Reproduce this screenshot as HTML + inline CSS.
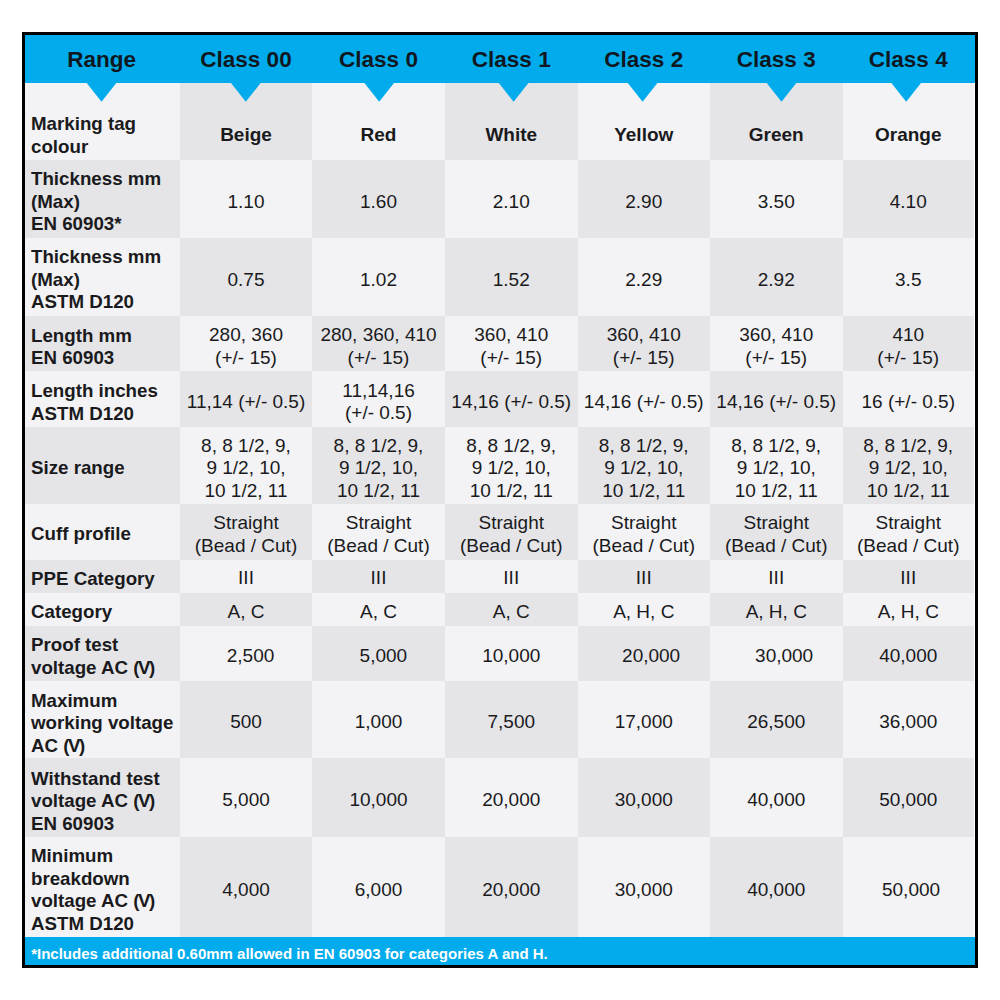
<!DOCTYPE html>
<html><head><meta charset="utf-8"><style>
html,body{margin:0;padding:0;background:#fff;}
body{width:1000px;height:1000px;position:relative;overflow:hidden;font-family:"Liberation Sans",sans-serif;}
.c{position:absolute;}
.t{position:absolute;height:30px;line-height:30px;white-space:nowrap;}
#box{position:absolute;left:22px;top:32px;width:950px;height:930px;border:3px solid #000;}
</style></head><body>
<div id="box"></div>
<div class="c" style="left:25px;top:83px;width:155px;height:77px;background:#f3f3f5"></div>
<div class="c" style="left:180px;top:83px;width:132px;height:77px;background:#e5e5e8"></div>
<div class="c" style="left:312px;top:83px;width:133px;height:77px;background:#f3f3f5"></div>
<div class="c" style="left:445px;top:83px;width:132.5px;height:77px;background:#e5e5e8"></div>
<div class="c" style="left:577.5px;top:83px;width:132.5px;height:77px;background:#f3f3f5"></div>
<div class="c" style="left:710px;top:83px;width:132.5px;height:77px;background:#e5e5e8"></div>
<div class="c" style="left:842.5px;top:83px;width:131.5px;height:77px;background:#f3f3f5"></div>
<div class="c" style="left:25px;top:160px;width:155px;height:78px;background:#e5e5e8"></div>
<div class="c" style="left:180px;top:160px;width:132px;height:78px;background:#f3f3f5"></div>
<div class="c" style="left:312px;top:160px;width:133px;height:78px;background:#e5e5e8"></div>
<div class="c" style="left:445px;top:160px;width:132.5px;height:78px;background:#f3f3f5"></div>
<div class="c" style="left:577.5px;top:160px;width:132.5px;height:78px;background:#e5e5e8"></div>
<div class="c" style="left:710px;top:160px;width:132.5px;height:78px;background:#f3f3f5"></div>
<div class="c" style="left:842.5px;top:160px;width:131.5px;height:78px;background:#e5e5e8"></div>
<div class="c" style="left:25px;top:238px;width:155px;height:78px;background:#f3f3f5"></div>
<div class="c" style="left:180px;top:238px;width:132px;height:78px;background:#e5e5e8"></div>
<div class="c" style="left:312px;top:238px;width:133px;height:78px;background:#f3f3f5"></div>
<div class="c" style="left:445px;top:238px;width:132.5px;height:78px;background:#e5e5e8"></div>
<div class="c" style="left:577.5px;top:238px;width:132.5px;height:78px;background:#f3f3f5"></div>
<div class="c" style="left:710px;top:238px;width:132.5px;height:78px;background:#e5e5e8"></div>
<div class="c" style="left:842.5px;top:238px;width:131.5px;height:78px;background:#f3f3f5"></div>
<div class="c" style="left:25px;top:316px;width:155px;height:55px;background:#e5e5e8"></div>
<div class="c" style="left:180px;top:316px;width:132px;height:55px;background:#f3f3f5"></div>
<div class="c" style="left:312px;top:316px;width:133px;height:55px;background:#e5e5e8"></div>
<div class="c" style="left:445px;top:316px;width:132.5px;height:55px;background:#f3f3f5"></div>
<div class="c" style="left:577.5px;top:316px;width:132.5px;height:55px;background:#e5e5e8"></div>
<div class="c" style="left:710px;top:316px;width:132.5px;height:55px;background:#f3f3f5"></div>
<div class="c" style="left:842.5px;top:316px;width:131.5px;height:55px;background:#e5e5e8"></div>
<div class="c" style="left:25px;top:371px;width:155px;height:56px;background:#f3f3f5"></div>
<div class="c" style="left:180px;top:371px;width:132px;height:56px;background:#e5e5e8"></div>
<div class="c" style="left:312px;top:371px;width:133px;height:56px;background:#f3f3f5"></div>
<div class="c" style="left:445px;top:371px;width:132.5px;height:56px;background:#e5e5e8"></div>
<div class="c" style="left:577.5px;top:371px;width:132.5px;height:56px;background:#f3f3f5"></div>
<div class="c" style="left:710px;top:371px;width:132.5px;height:56px;background:#e5e5e8"></div>
<div class="c" style="left:842.5px;top:371px;width:131.5px;height:56px;background:#f3f3f5"></div>
<div class="c" style="left:25px;top:427px;width:155px;height:77px;background:#e5e5e8"></div>
<div class="c" style="left:180px;top:427px;width:132px;height:77px;background:#f3f3f5"></div>
<div class="c" style="left:312px;top:427px;width:133px;height:77px;background:#e5e5e8"></div>
<div class="c" style="left:445px;top:427px;width:132.5px;height:77px;background:#f3f3f5"></div>
<div class="c" style="left:577.5px;top:427px;width:132.5px;height:77px;background:#e5e5e8"></div>
<div class="c" style="left:710px;top:427px;width:132.5px;height:77px;background:#f3f3f5"></div>
<div class="c" style="left:842.5px;top:427px;width:131.5px;height:77px;background:#e5e5e8"></div>
<div class="c" style="left:25px;top:504px;width:155px;height:56px;background:#f3f3f5"></div>
<div class="c" style="left:180px;top:504px;width:132px;height:56px;background:#e5e5e8"></div>
<div class="c" style="left:312px;top:504px;width:133px;height:56px;background:#f3f3f5"></div>
<div class="c" style="left:445px;top:504px;width:132.5px;height:56px;background:#e5e5e8"></div>
<div class="c" style="left:577.5px;top:504px;width:132.5px;height:56px;background:#f3f3f5"></div>
<div class="c" style="left:710px;top:504px;width:132.5px;height:56px;background:#e5e5e8"></div>
<div class="c" style="left:842.5px;top:504px;width:131.5px;height:56px;background:#f3f3f5"></div>
<div class="c" style="left:25px;top:560px;width:155px;height:33px;background:#e5e5e8"></div>
<div class="c" style="left:180px;top:560px;width:132px;height:33px;background:#f3f3f5"></div>
<div class="c" style="left:312px;top:560px;width:133px;height:33px;background:#e5e5e8"></div>
<div class="c" style="left:445px;top:560px;width:132.5px;height:33px;background:#f3f3f5"></div>
<div class="c" style="left:577.5px;top:560px;width:132.5px;height:33px;background:#e5e5e8"></div>
<div class="c" style="left:710px;top:560px;width:132.5px;height:33px;background:#f3f3f5"></div>
<div class="c" style="left:842.5px;top:560px;width:131.5px;height:33px;background:#e5e5e8"></div>
<div class="c" style="left:25px;top:593px;width:155px;height:33px;background:#f3f3f5"></div>
<div class="c" style="left:180px;top:593px;width:132px;height:33px;background:#e5e5e8"></div>
<div class="c" style="left:312px;top:593px;width:133px;height:33px;background:#f3f3f5"></div>
<div class="c" style="left:445px;top:593px;width:132.5px;height:33px;background:#e5e5e8"></div>
<div class="c" style="left:577.5px;top:593px;width:132.5px;height:33px;background:#f3f3f5"></div>
<div class="c" style="left:710px;top:593px;width:132.5px;height:33px;background:#e5e5e8"></div>
<div class="c" style="left:842.5px;top:593px;width:131.5px;height:33px;background:#f3f3f5"></div>
<div class="c" style="left:25px;top:626px;width:155px;height:55px;background:#e5e5e8"></div>
<div class="c" style="left:180px;top:626px;width:132px;height:55px;background:#f3f3f5"></div>
<div class="c" style="left:312px;top:626px;width:133px;height:55px;background:#e5e5e8"></div>
<div class="c" style="left:445px;top:626px;width:132.5px;height:55px;background:#f3f3f5"></div>
<div class="c" style="left:577.5px;top:626px;width:132.5px;height:55px;background:#e5e5e8"></div>
<div class="c" style="left:710px;top:626px;width:132.5px;height:55px;background:#f3f3f5"></div>
<div class="c" style="left:842.5px;top:626px;width:131.5px;height:55px;background:#e5e5e8"></div>
<div class="c" style="left:25px;top:681px;width:155px;height:77px;background:#f3f3f5"></div>
<div class="c" style="left:180px;top:681px;width:132px;height:77px;background:#e5e5e8"></div>
<div class="c" style="left:312px;top:681px;width:133px;height:77px;background:#f3f3f5"></div>
<div class="c" style="left:445px;top:681px;width:132.5px;height:77px;background:#e5e5e8"></div>
<div class="c" style="left:577.5px;top:681px;width:132.5px;height:77px;background:#f3f3f5"></div>
<div class="c" style="left:710px;top:681px;width:132.5px;height:77px;background:#e5e5e8"></div>
<div class="c" style="left:842.5px;top:681px;width:131.5px;height:77px;background:#f3f3f5"></div>
<div class="c" style="left:25px;top:758px;width:155px;height:79px;background:#e5e5e8"></div>
<div class="c" style="left:180px;top:758px;width:132px;height:79px;background:#f3f3f5"></div>
<div class="c" style="left:312px;top:758px;width:133px;height:79px;background:#e5e5e8"></div>
<div class="c" style="left:445px;top:758px;width:132.5px;height:79px;background:#f3f3f5"></div>
<div class="c" style="left:577.5px;top:758px;width:132.5px;height:79px;background:#e5e5e8"></div>
<div class="c" style="left:710px;top:758px;width:132.5px;height:79px;background:#f3f3f5"></div>
<div class="c" style="left:842.5px;top:758px;width:131.5px;height:79px;background:#e5e5e8"></div>
<div class="c" style="left:25px;top:837px;width:155px;height:100px;background:#f3f3f5"></div>
<div class="c" style="left:180px;top:837px;width:132px;height:100px;background:#e5e5e8"></div>
<div class="c" style="left:312px;top:837px;width:133px;height:100px;background:#f3f3f5"></div>
<div class="c" style="left:445px;top:837px;width:132.5px;height:100px;background:#e5e5e8"></div>
<div class="c" style="left:577.5px;top:837px;width:132.5px;height:100px;background:#f3f3f5"></div>
<div class="c" style="left:710px;top:837px;width:132.5px;height:100px;background:#e5e5e8"></div>
<div class="c" style="left:842.5px;top:837px;width:131.5px;height:100px;background:#f3f3f5"></div>
<div class="c" style="left:25px;top:35px;width:950px;height:48px;background:#02abec"></div>
<div class="c" style="left:25px;top:937px;width:950px;height:28px;background:#02abec"></div>
<svg class="c" style="left:0;top:0" width="1000" height="1000" viewBox="0 0 1000 1000"><polygon points="86.30,82.5 116.70,82.5 101.50,101.8" fill="#02abec"/><polygon points="230.60,82.5 261.00,82.5 245.80,101.8" fill="#02abec"/><polygon points="364.00,82.5 394.40,82.5 379.20,101.8" fill="#02abec"/><polygon points="498.40,82.5 528.80,82.5 513.60,101.8" fill="#02abec"/><polygon points="627.40,82.5 657.80,82.5 642.60,101.8" fill="#02abec"/><polygon points="766.30,82.5 796.70,82.5 781.50,101.8" fill="#02abec"/><polygon points="891.00,82.5 921.40,82.5 906.20,101.8" fill="#02abec"/></svg>
<div class="t" style="left:31.70px;top:45.20px;width:140px;text-align:center;font-size:22.5px;font-weight:bold;color:#0f1820;transform:scaleX(1.0);transform-origin:50% 50%">Range</div>
<div class="t" style="left:176.00px;top:45.20px;width:140px;text-align:center;font-size:22.5px;font-weight:bold;color:#0f1820;transform:scaleX(1.0);transform-origin:50% 50%">Class 00</div>
<div class="t" style="left:308.50px;top:45.20px;width:140px;text-align:center;font-size:22.5px;font-weight:bold;color:#0f1820;transform:scaleX(1.0);transform-origin:50% 50%">Class 0</div>
<div class="t" style="left:441.25px;top:45.20px;width:140px;text-align:center;font-size:22.5px;font-weight:bold;color:#0f1820;transform:scaleX(1.0);transform-origin:50% 50%">Class 1</div>
<div class="t" style="left:573.75px;top:45.20px;width:140px;text-align:center;font-size:22.5px;font-weight:bold;color:#0f1820;transform:scaleX(1.0);transform-origin:50% 50%">Class 2</div>
<div class="t" style="left:706.25px;top:45.20px;width:140px;text-align:center;font-size:22.5px;font-weight:bold;color:#0f1820;transform:scaleX(1.0);transform-origin:50% 50%">Class 3</div>
<div class="t" style="left:838.25px;top:45.20px;width:140px;text-align:center;font-size:22.5px;font-weight:bold;color:#0f1820;transform:scaleX(1.0);transform-origin:50% 50%">Class 4</div>
<div class="t" style="left:30.50px;top:109.12px;width:160px;text-align:left;font-size:19.0px;font-weight:bold;color:#1a1a1c;transform:scaleX(0.985);transform-origin:0 50%">Marking tag</div>
<div class="t" style="left:30.50px;top:131.52px;width:160px;text-align:left;font-size:19.0px;font-weight:bold;color:#1a1a1c;transform:scaleX(0.985);transform-origin:0 50%">colour</div>
<div class="t" style="left:176.00px;top:120.27px;width:140px;text-align:center;font-size:19.0px;font-weight:bold;color:#1a1a1c;transform:scaleX(1.0);transform-origin:50% 50%">Beige</div>
<div class="t" style="left:308.50px;top:120.27px;width:140px;text-align:center;font-size:19.0px;font-weight:bold;color:#1a1a1c;transform:scaleX(1.0);transform-origin:50% 50%">Red</div>
<div class="t" style="left:441.25px;top:120.27px;width:140px;text-align:center;font-size:19.0px;font-weight:bold;color:#1a1a1c;transform:scaleX(1.0);transform-origin:50% 50%">White</div>
<div class="t" style="left:573.75px;top:120.27px;width:140px;text-align:center;font-size:19.0px;font-weight:bold;color:#1a1a1c;transform:scaleX(1.0);transform-origin:50% 50%">Yellow</div>
<div class="t" style="left:706.25px;top:120.27px;width:140px;text-align:center;font-size:19.0px;font-weight:bold;color:#1a1a1c;transform:scaleX(1.0);transform-origin:50% 50%">Green</div>
<div class="t" style="left:838.25px;top:120.27px;width:140px;text-align:center;font-size:19.0px;font-weight:bold;color:#1a1a1c;transform:scaleX(1.0);transform-origin:50% 50%">Orange</div>
<div class="t" style="left:30.50px;top:164.22px;width:160px;text-align:left;font-size:19.0px;font-weight:bold;color:#1a1a1c;transform:scaleX(0.985);transform-origin:0 50%">Thickness mm</div>
<div class="t" style="left:30.50px;top:186.62px;width:160px;text-align:left;font-size:19.0px;font-weight:bold;color:#1a1a1c;transform:scaleX(0.985);transform-origin:0 50%">(Max)</div>
<div class="t" style="left:30.50px;top:209.02px;width:160px;text-align:left;font-size:19.0px;font-weight:bold;color:#1a1a1c;transform:scaleX(0.985);transform-origin:0 50%">EN 60903*</div>
<div class="t" style="left:176.00px;top:187.02px;width:140px;text-align:center;font-size:19.0px;font-weight:normal;color:#1a1a1c;transform:scaleX(1.0);transform-origin:50% 50%">1.10</div>
<div class="t" style="left:308.50px;top:187.02px;width:140px;text-align:center;font-size:19.0px;font-weight:normal;color:#1a1a1c;transform:scaleX(1.0);transform-origin:50% 50%">1.60</div>
<div class="t" style="left:441.25px;top:187.02px;width:140px;text-align:center;font-size:19.0px;font-weight:normal;color:#1a1a1c;transform:scaleX(1.0);transform-origin:50% 50%">2.10</div>
<div class="t" style="left:573.75px;top:187.02px;width:140px;text-align:center;font-size:19.0px;font-weight:normal;color:#1a1a1c;transform:scaleX(1.0);transform-origin:50% 50%">2.90</div>
<div class="t" style="left:706.25px;top:187.02px;width:140px;text-align:center;font-size:19.0px;font-weight:normal;color:#1a1a1c;transform:scaleX(1.0);transform-origin:50% 50%">3.50</div>
<div class="t" style="left:838.25px;top:187.02px;width:140px;text-align:center;font-size:19.0px;font-weight:normal;color:#1a1a1c;transform:scaleX(1.0);transform-origin:50% 50%">4.10</div>
<div class="t" style="left:30.50px;top:242.37px;width:160px;text-align:left;font-size:19.0px;font-weight:bold;color:#1a1a1c;transform:scaleX(0.985);transform-origin:0 50%">Thickness mm</div>
<div class="t" style="left:30.50px;top:264.77px;width:160px;text-align:left;font-size:19.0px;font-weight:bold;color:#1a1a1c;transform:scaleX(0.985);transform-origin:0 50%">(Max)</div>
<div class="t" style="left:30.50px;top:287.17px;width:160px;text-align:left;font-size:19.0px;font-weight:bold;color:#1a1a1c;transform:scaleX(0.985);transform-origin:0 50%">ASTM D120</div>
<div class="t" style="left:176.00px;top:264.72px;width:140px;text-align:center;font-size:19.0px;font-weight:normal;color:#1a1a1c;transform:scaleX(1.0);transform-origin:50% 50%">0.75</div>
<div class="t" style="left:308.50px;top:264.72px;width:140px;text-align:center;font-size:19.0px;font-weight:normal;color:#1a1a1c;transform:scaleX(1.0);transform-origin:50% 50%">1.02</div>
<div class="t" style="left:441.25px;top:264.72px;width:140px;text-align:center;font-size:19.0px;font-weight:normal;color:#1a1a1c;transform:scaleX(1.0);transform-origin:50% 50%">1.52</div>
<div class="t" style="left:573.75px;top:264.72px;width:140px;text-align:center;font-size:19.0px;font-weight:normal;color:#1a1a1c;transform:scaleX(1.0);transform-origin:50% 50%">2.29</div>
<div class="t" style="left:706.25px;top:264.72px;width:140px;text-align:center;font-size:19.0px;font-weight:normal;color:#1a1a1c;transform:scaleX(1.0);transform-origin:50% 50%">2.92</div>
<div class="t" style="left:838.25px;top:264.72px;width:140px;text-align:center;font-size:19.0px;font-weight:normal;color:#1a1a1c;transform:scaleX(1.0);transform-origin:50% 50%">3.5</div>
<div class="t" style="left:30.50px;top:320.57px;width:160px;text-align:left;font-size:19.0px;font-weight:bold;color:#1a1a1c;transform:scaleX(0.985);transform-origin:0 50%">Length mm</div>
<div class="t" style="left:30.50px;top:342.97px;width:160px;text-align:left;font-size:19.0px;font-weight:bold;color:#1a1a1c;transform:scaleX(0.985);transform-origin:0 50%">EN 60903</div>
<div class="t" style="left:176.00px;top:320.34px;width:140px;text-align:center;font-size:19.0px;font-weight:normal;color:#1a1a1c;transform:scaleX(1.0);transform-origin:50% 50%">280, 360</div>
<div class="t" style="left:176.00px;top:342.74px;width:140px;text-align:center;font-size:19.0px;font-weight:normal;color:#1a1a1c;transform:scaleX(1.0);transform-origin:50% 50%">(+/- 15)</div>
<div class="t" style="left:308.50px;top:320.34px;width:140px;text-align:center;font-size:19.0px;font-weight:normal;color:#1a1a1c;transform:scaleX(1.0);transform-origin:50% 50%">280, 360, 410</div>
<div class="t" style="left:308.50px;top:342.74px;width:140px;text-align:center;font-size:19.0px;font-weight:normal;color:#1a1a1c;transform:scaleX(1.0);transform-origin:50% 50%">(+/- 15)</div>
<div class="t" style="left:441.25px;top:320.34px;width:140px;text-align:center;font-size:19.0px;font-weight:normal;color:#1a1a1c;transform:scaleX(1.0);transform-origin:50% 50%">360, 410</div>
<div class="t" style="left:441.25px;top:342.74px;width:140px;text-align:center;font-size:19.0px;font-weight:normal;color:#1a1a1c;transform:scaleX(1.0);transform-origin:50% 50%">(+/- 15)</div>
<div class="t" style="left:573.75px;top:320.34px;width:140px;text-align:center;font-size:19.0px;font-weight:normal;color:#1a1a1c;transform:scaleX(1.0);transform-origin:50% 50%">360, 410</div>
<div class="t" style="left:573.75px;top:342.74px;width:140px;text-align:center;font-size:19.0px;font-weight:normal;color:#1a1a1c;transform:scaleX(1.0);transform-origin:50% 50%">(+/- 15)</div>
<div class="t" style="left:706.25px;top:320.34px;width:140px;text-align:center;font-size:19.0px;font-weight:normal;color:#1a1a1c;transform:scaleX(1.0);transform-origin:50% 50%">360, 410</div>
<div class="t" style="left:706.25px;top:342.74px;width:140px;text-align:center;font-size:19.0px;font-weight:normal;color:#1a1a1c;transform:scaleX(1.0);transform-origin:50% 50%">(+/- 15)</div>
<div class="t" style="left:838.25px;top:320.34px;width:140px;text-align:center;font-size:19.0px;font-weight:normal;color:#1a1a1c;transform:scaleX(1.0);transform-origin:50% 50%">410</div>
<div class="t" style="left:838.25px;top:342.74px;width:140px;text-align:center;font-size:19.0px;font-weight:normal;color:#1a1a1c;transform:scaleX(1.0);transform-origin:50% 50%">(+/- 15)</div>
<div class="t" style="left:30.50px;top:376.37px;width:160px;text-align:left;font-size:19.0px;font-weight:bold;color:#1a1a1c;transform:scaleX(0.985);transform-origin:0 50%">Length inches</div>
<div class="t" style="left:30.50px;top:398.77px;width:160px;text-align:left;font-size:19.0px;font-weight:bold;color:#1a1a1c;transform:scaleX(0.985);transform-origin:0 50%">ASTM D120</div>
<div class="t" style="left:176.00px;top:387.02px;width:140px;text-align:center;font-size:19.0px;font-weight:normal;color:#1a1a1c;transform:scaleX(1.0);transform-origin:50% 50%">11,14 (+/- 0.5)</div>
<div class="t" style="left:308.50px;top:375.82px;width:140px;text-align:center;font-size:19.0px;font-weight:normal;color:#1a1a1c;transform:scaleX(1.0);transform-origin:50% 50%">11,14,16</div>
<div class="t" style="left:308.50px;top:398.22px;width:140px;text-align:center;font-size:19.0px;font-weight:normal;color:#1a1a1c;transform:scaleX(1.0);transform-origin:50% 50%">(+/- 0.5)</div>
<div class="t" style="left:441.25px;top:387.02px;width:140px;text-align:center;font-size:19.0px;font-weight:normal;color:#1a1a1c;transform:scaleX(1.0);transform-origin:50% 50%">14,16 (+/- 0.5)</div>
<div class="t" style="left:573.75px;top:387.02px;width:140px;text-align:center;font-size:19.0px;font-weight:normal;color:#1a1a1c;transform:scaleX(1.0);transform-origin:50% 50%">14,16 (+/- 0.5)</div>
<div class="t" style="left:706.25px;top:387.02px;width:140px;text-align:center;font-size:19.0px;font-weight:normal;color:#1a1a1c;transform:scaleX(1.0);transform-origin:50% 50%">14,16 (+/- 0.5)</div>
<div class="t" style="left:838.25px;top:387.02px;width:140px;text-align:center;font-size:19.0px;font-weight:normal;color:#1a1a1c;transform:scaleX(1.0);transform-origin:50% 50%">16 (+/- 0.5)</div>
<div class="t" style="left:30.50px;top:453.42px;width:160px;text-align:left;font-size:19.0px;font-weight:bold;color:#1a1a1c;transform:scaleX(0.985);transform-origin:0 50%">Size range</div>
<div class="t" style="left:176.00px;top:431.04px;width:140px;text-align:center;font-size:19.0px;font-weight:normal;color:#1a1a1c;transform:scaleX(1.0);transform-origin:50% 50%">8, 8 1/2, 9,</div>
<div class="t" style="left:176.00px;top:453.44px;width:140px;text-align:center;font-size:19.0px;font-weight:normal;color:#1a1a1c;transform:scaleX(1.0);transform-origin:50% 50%">9 1/2, 10,</div>
<div class="t" style="left:176.00px;top:475.84px;width:140px;text-align:center;font-size:19.0px;font-weight:normal;color:#1a1a1c;transform:scaleX(1.0);transform-origin:50% 50%">10 1/2, 11</div>
<div class="t" style="left:308.50px;top:431.04px;width:140px;text-align:center;font-size:19.0px;font-weight:normal;color:#1a1a1c;transform:scaleX(1.0);transform-origin:50% 50%">8, 8 1/2, 9,</div>
<div class="t" style="left:308.50px;top:453.44px;width:140px;text-align:center;font-size:19.0px;font-weight:normal;color:#1a1a1c;transform:scaleX(1.0);transform-origin:50% 50%">9 1/2, 10,</div>
<div class="t" style="left:308.50px;top:475.84px;width:140px;text-align:center;font-size:19.0px;font-weight:normal;color:#1a1a1c;transform:scaleX(1.0);transform-origin:50% 50%">10 1/2, 11</div>
<div class="t" style="left:441.25px;top:431.04px;width:140px;text-align:center;font-size:19.0px;font-weight:normal;color:#1a1a1c;transform:scaleX(1.0);transform-origin:50% 50%">8, 8 1/2, 9,</div>
<div class="t" style="left:441.25px;top:453.44px;width:140px;text-align:center;font-size:19.0px;font-weight:normal;color:#1a1a1c;transform:scaleX(1.0);transform-origin:50% 50%">9 1/2, 10,</div>
<div class="t" style="left:441.25px;top:475.84px;width:140px;text-align:center;font-size:19.0px;font-weight:normal;color:#1a1a1c;transform:scaleX(1.0);transform-origin:50% 50%">10 1/2, 11</div>
<div class="t" style="left:573.75px;top:431.04px;width:140px;text-align:center;font-size:19.0px;font-weight:normal;color:#1a1a1c;transform:scaleX(1.0);transform-origin:50% 50%">8, 8 1/2, 9,</div>
<div class="t" style="left:573.75px;top:453.44px;width:140px;text-align:center;font-size:19.0px;font-weight:normal;color:#1a1a1c;transform:scaleX(1.0);transform-origin:50% 50%">9 1/2, 10,</div>
<div class="t" style="left:573.75px;top:475.84px;width:140px;text-align:center;font-size:19.0px;font-weight:normal;color:#1a1a1c;transform:scaleX(1.0);transform-origin:50% 50%">10 1/2, 11</div>
<div class="t" style="left:706.25px;top:431.04px;width:140px;text-align:center;font-size:19.0px;font-weight:normal;color:#1a1a1c;transform:scaleX(1.0);transform-origin:50% 50%">8, 8 1/2, 9,</div>
<div class="t" style="left:706.25px;top:453.44px;width:140px;text-align:center;font-size:19.0px;font-weight:normal;color:#1a1a1c;transform:scaleX(1.0);transform-origin:50% 50%">9 1/2, 10,</div>
<div class="t" style="left:706.25px;top:475.84px;width:140px;text-align:center;font-size:19.0px;font-weight:normal;color:#1a1a1c;transform:scaleX(1.0);transform-origin:50% 50%">10 1/2, 11</div>
<div class="t" style="left:838.25px;top:431.04px;width:140px;text-align:center;font-size:19.0px;font-weight:normal;color:#1a1a1c;transform:scaleX(1.0);transform-origin:50% 50%">8, 8 1/2, 9,</div>
<div class="t" style="left:838.25px;top:453.44px;width:140px;text-align:center;font-size:19.0px;font-weight:normal;color:#1a1a1c;transform:scaleX(1.0);transform-origin:50% 50%">9 1/2, 10,</div>
<div class="t" style="left:838.25px;top:475.84px;width:140px;text-align:center;font-size:19.0px;font-weight:normal;color:#1a1a1c;transform:scaleX(1.0);transform-origin:50% 50%">10 1/2, 11</div>
<div class="t" style="left:30.50px;top:519.27px;width:160px;text-align:left;font-size:19.0px;font-weight:bold;color:#1a1a1c;transform:scaleX(0.985);transform-origin:0 50%">Cuff profile</div>
<div class="t" style="left:176.00px;top:508.27px;width:140px;text-align:center;font-size:19.0px;font-weight:normal;color:#1a1a1c;transform:scaleX(1.0);transform-origin:50% 50%">Straight</div>
<div class="t" style="left:176.00px;top:530.67px;width:140px;text-align:center;font-size:19.0px;font-weight:normal;color:#1a1a1c;transform:scaleX(1.0);transform-origin:50% 50%">(Bead / Cut)</div>
<div class="t" style="left:308.50px;top:508.27px;width:140px;text-align:center;font-size:19.0px;font-weight:normal;color:#1a1a1c;transform:scaleX(1.0);transform-origin:50% 50%">Straight</div>
<div class="t" style="left:308.50px;top:530.67px;width:140px;text-align:center;font-size:19.0px;font-weight:normal;color:#1a1a1c;transform:scaleX(1.0);transform-origin:50% 50%">(Bead / Cut)</div>
<div class="t" style="left:441.25px;top:508.27px;width:140px;text-align:center;font-size:19.0px;font-weight:normal;color:#1a1a1c;transform:scaleX(1.0);transform-origin:50% 50%">Straight</div>
<div class="t" style="left:441.25px;top:530.67px;width:140px;text-align:center;font-size:19.0px;font-weight:normal;color:#1a1a1c;transform:scaleX(1.0);transform-origin:50% 50%">(Bead / Cut)</div>
<div class="t" style="left:573.75px;top:508.27px;width:140px;text-align:center;font-size:19.0px;font-weight:normal;color:#1a1a1c;transform:scaleX(1.0);transform-origin:50% 50%">Straight</div>
<div class="t" style="left:573.75px;top:530.67px;width:140px;text-align:center;font-size:19.0px;font-weight:normal;color:#1a1a1c;transform:scaleX(1.0);transform-origin:50% 50%">(Bead / Cut)</div>
<div class="t" style="left:706.25px;top:508.27px;width:140px;text-align:center;font-size:19.0px;font-weight:normal;color:#1a1a1c;transform:scaleX(1.0);transform-origin:50% 50%">Straight</div>
<div class="t" style="left:706.25px;top:530.67px;width:140px;text-align:center;font-size:19.0px;font-weight:normal;color:#1a1a1c;transform:scaleX(1.0);transform-origin:50% 50%">(Bead / Cut)</div>
<div class="t" style="left:838.25px;top:508.27px;width:140px;text-align:center;font-size:19.0px;font-weight:normal;color:#1a1a1c;transform:scaleX(1.0);transform-origin:50% 50%">Straight</div>
<div class="t" style="left:838.25px;top:530.67px;width:140px;text-align:center;font-size:19.0px;font-weight:normal;color:#1a1a1c;transform:scaleX(1.0);transform-origin:50% 50%">(Bead / Cut)</div>
<div class="t" style="left:30.50px;top:563.80px;width:160px;text-align:left;font-size:19.0px;font-weight:bold;color:#1a1a1c;transform:scaleX(0.985);transform-origin:0 50%">PPE Category</div>
<div class="t" style="left:176.00px;top:563.49px;width:140px;text-align:center;font-size:19.0px;font-weight:normal;color:#1a1a1c;transform:scaleX(1.0);transform-origin:50% 50%">III</div>
<div class="t" style="left:308.50px;top:563.49px;width:140px;text-align:center;font-size:19.0px;font-weight:normal;color:#1a1a1c;transform:scaleX(1.0);transform-origin:50% 50%">III</div>
<div class="t" style="left:441.25px;top:563.49px;width:140px;text-align:center;font-size:19.0px;font-weight:normal;color:#1a1a1c;transform:scaleX(1.0);transform-origin:50% 50%">III</div>
<div class="t" style="left:573.75px;top:563.49px;width:140px;text-align:center;font-size:19.0px;font-weight:normal;color:#1a1a1c;transform:scaleX(1.0);transform-origin:50% 50%">III</div>
<div class="t" style="left:706.25px;top:563.49px;width:140px;text-align:center;font-size:19.0px;font-weight:normal;color:#1a1a1c;transform:scaleX(1.0);transform-origin:50% 50%">III</div>
<div class="t" style="left:838.25px;top:563.49px;width:140px;text-align:center;font-size:19.0px;font-weight:normal;color:#1a1a1c;transform:scaleX(1.0);transform-origin:50% 50%">III</div>
<div class="t" style="left:30.50px;top:596.87px;width:160px;text-align:left;font-size:19.0px;font-weight:bold;color:#1a1a1c;transform:scaleX(0.985);transform-origin:0 50%">Category</div>
<div class="t" style="left:176.00px;top:596.74px;width:140px;text-align:center;font-size:19.0px;font-weight:normal;color:#1a1a1c;transform:scaleX(1.0);transform-origin:50% 50%">A, C</div>
<div class="t" style="left:308.50px;top:596.74px;width:140px;text-align:center;font-size:19.0px;font-weight:normal;color:#1a1a1c;transform:scaleX(1.0);transform-origin:50% 50%">A, C</div>
<div class="t" style="left:441.25px;top:596.74px;width:140px;text-align:center;font-size:19.0px;font-weight:normal;color:#1a1a1c;transform:scaleX(1.0);transform-origin:50% 50%">A, C</div>
<div class="t" style="left:573.75px;top:596.74px;width:140px;text-align:center;font-size:19.0px;font-weight:normal;color:#1a1a1c;transform:scaleX(1.0);transform-origin:50% 50%">A, H, C</div>
<div class="t" style="left:706.25px;top:596.74px;width:140px;text-align:center;font-size:19.0px;font-weight:normal;color:#1a1a1c;transform:scaleX(1.0);transform-origin:50% 50%">A, H, C</div>
<div class="t" style="left:838.25px;top:596.74px;width:140px;text-align:center;font-size:19.0px;font-weight:normal;color:#1a1a1c;transform:scaleX(1.0);transform-origin:50% 50%">A, H, C</div>
<div class="t" style="left:30.50px;top:630.32px;width:160px;text-align:left;font-size:19.0px;font-weight:bold;color:#1a1a1c;transform:scaleX(0.985);transform-origin:0 50%">Proof test</div>
<div class="t" style="left:30.50px;top:652.72px;width:160px;text-align:left;font-size:19.0px;font-weight:bold;color:#1a1a1c;transform:scaleX(0.985);transform-origin:0 50%">voltage AC <span style="letter-spacing:-1.5px">(V</span>)</div>
<div class="t" style="left:180.50px;top:640.52px;width:140px;text-align:center;font-size:19.0px;font-weight:normal;color:#1a1a1c;transform:scaleX(1.0);transform-origin:50% 50%">2,500</div>
<div class="t" style="left:313.40px;top:640.52px;width:140px;text-align:center;font-size:19.0px;font-weight:normal;color:#1a1a1c;transform:scaleX(1.0);transform-origin:50% 50%">5,000</div>
<div class="t" style="left:441.25px;top:640.52px;width:140px;text-align:center;font-size:19.0px;font-weight:normal;color:#1a1a1c;transform:scaleX(1.0);transform-origin:50% 50%">10,000</div>
<div class="t" style="left:581.15px;top:640.52px;width:140px;text-align:center;font-size:19.0px;font-weight:normal;color:#1a1a1c;transform:scaleX(1.0);transform-origin:50% 50%">20,000</div>
<div class="t" style="left:714.15px;top:640.52px;width:140px;text-align:center;font-size:19.0px;font-weight:normal;color:#1a1a1c;transform:scaleX(1.0);transform-origin:50% 50%">30,000</div>
<div class="t" style="left:838.25px;top:640.52px;width:140px;text-align:center;font-size:19.0px;font-weight:normal;color:#1a1a1c;transform:scaleX(1.0);transform-origin:50% 50%">40,000</div>
<div class="t" style="left:30.50px;top:685.82px;width:160px;text-align:left;font-size:19.0px;font-weight:bold;color:#1a1a1c;transform:scaleX(0.985);transform-origin:0 50%">Maximum</div>
<div class="t" style="left:30.50px;top:708.22px;width:160px;text-align:left;font-size:19.0px;font-weight:bold;color:#1a1a1c;transform:scaleX(0.985);transform-origin:0 50%">working voltage</div>
<div class="t" style="left:30.50px;top:730.62px;width:160px;text-align:left;font-size:19.0px;font-weight:bold;color:#1a1a1c;transform:scaleX(0.985);transform-origin:0 50%">AC <span style="letter-spacing:-1.5px">(V</span>)</div>
<div class="t" style="left:176.00px;top:707.42px;width:140px;text-align:center;font-size:19.0px;font-weight:normal;color:#1a1a1c;transform:scaleX(1.0);transform-origin:50% 50%">500</div>
<div class="t" style="left:308.50px;top:707.42px;width:140px;text-align:center;font-size:19.0px;font-weight:normal;color:#1a1a1c;transform:scaleX(1.0);transform-origin:50% 50%">1,000</div>
<div class="t" style="left:441.25px;top:707.42px;width:140px;text-align:center;font-size:19.0px;font-weight:normal;color:#1a1a1c;transform:scaleX(1.0);transform-origin:50% 50%">7,500</div>
<div class="t" style="left:573.75px;top:707.42px;width:140px;text-align:center;font-size:19.0px;font-weight:normal;color:#1a1a1c;transform:scaleX(1.0);transform-origin:50% 50%">17,000</div>
<div class="t" style="left:706.25px;top:707.42px;width:140px;text-align:center;font-size:19.0px;font-weight:normal;color:#1a1a1c;transform:scaleX(1.0);transform-origin:50% 50%">26,500</div>
<div class="t" style="left:838.25px;top:707.42px;width:140px;text-align:center;font-size:19.0px;font-weight:normal;color:#1a1a1c;transform:scaleX(1.0);transform-origin:50% 50%">36,000</div>
<div class="t" style="left:30.50px;top:763.90px;width:160px;text-align:left;font-size:19.0px;font-weight:bold;color:#1a1a1c;transform:scaleX(0.985);transform-origin:0 50%">Withstand test</div>
<div class="t" style="left:30.50px;top:786.30px;width:160px;text-align:left;font-size:19.0px;font-weight:bold;color:#1a1a1c;transform:scaleX(0.985);transform-origin:0 50%">voltage AC <span style="letter-spacing:-1.5px">(V</span>)</div>
<div class="t" style="left:30.50px;top:808.70px;width:160px;text-align:left;font-size:19.0px;font-weight:bold;color:#1a1a1c;transform:scaleX(0.985);transform-origin:0 50%">EN 60903</div>
<div class="t" style="left:176.00px;top:784.52px;width:140px;text-align:center;font-size:19.0px;font-weight:normal;color:#1a1a1c;transform:scaleX(1.0);transform-origin:50% 50%">5,000</div>
<div class="t" style="left:308.50px;top:784.52px;width:140px;text-align:center;font-size:19.0px;font-weight:normal;color:#1a1a1c;transform:scaleX(1.0);transform-origin:50% 50%">10,000</div>
<div class="t" style="left:441.25px;top:784.52px;width:140px;text-align:center;font-size:19.0px;font-weight:normal;color:#1a1a1c;transform:scaleX(1.0);transform-origin:50% 50%">20,000</div>
<div class="t" style="left:573.75px;top:784.52px;width:140px;text-align:center;font-size:19.0px;font-weight:normal;color:#1a1a1c;transform:scaleX(1.0);transform-origin:50% 50%">30,000</div>
<div class="t" style="left:706.25px;top:784.52px;width:140px;text-align:center;font-size:19.0px;font-weight:normal;color:#1a1a1c;transform:scaleX(1.0);transform-origin:50% 50%">40,000</div>
<div class="t" style="left:838.25px;top:784.52px;width:140px;text-align:center;font-size:19.0px;font-weight:normal;color:#1a1a1c;transform:scaleX(1.0);transform-origin:50% 50%">50,000</div>
<div class="t" style="left:30.50px;top:841.42px;width:160px;text-align:left;font-size:19.0px;font-weight:bold;color:#1a1a1c;transform:scaleX(0.985);transform-origin:0 50%">Minimum</div>
<div class="t" style="left:30.50px;top:863.82px;width:160px;text-align:left;font-size:19.0px;font-weight:bold;color:#1a1a1c;transform:scaleX(0.985);transform-origin:0 50%">breakdown</div>
<div class="t" style="left:30.50px;top:886.22px;width:160px;text-align:left;font-size:19.0px;font-weight:bold;color:#1a1a1c;transform:scaleX(0.985);transform-origin:0 50%">voltage AC <span style="letter-spacing:-1.5px">(V</span>)</div>
<div class="t" style="left:30.50px;top:908.62px;width:160px;text-align:left;font-size:19.0px;font-weight:bold;color:#1a1a1c;transform:scaleX(0.985);transform-origin:0 50%">ASTM D120</div>
<div class="t" style="left:176.00px;top:874.72px;width:140px;text-align:center;font-size:19.0px;font-weight:normal;color:#1a1a1c;transform:scaleX(1.0);transform-origin:50% 50%">4,000</div>
<div class="t" style="left:308.50px;top:874.72px;width:140px;text-align:center;font-size:19.0px;font-weight:normal;color:#1a1a1c;transform:scaleX(1.0);transform-origin:50% 50%">6,000</div>
<div class="t" style="left:441.25px;top:874.72px;width:140px;text-align:center;font-size:19.0px;font-weight:normal;color:#1a1a1c;transform:scaleX(1.0);transform-origin:50% 50%">20,000</div>
<div class="t" style="left:573.75px;top:874.72px;width:140px;text-align:center;font-size:19.0px;font-weight:normal;color:#1a1a1c;transform:scaleX(1.0);transform-origin:50% 50%">30,000</div>
<div class="t" style="left:706.25px;top:874.72px;width:140px;text-align:center;font-size:19.0px;font-weight:normal;color:#1a1a1c;transform:scaleX(1.0);transform-origin:50% 50%">40,000</div>
<div class="t" style="left:841.05px;top:874.72px;width:140px;text-align:center;font-size:19.0px;font-weight:normal;color:#1a1a1c;transform:scaleX(1.0);transform-origin:50% 50%">50,000</div>
<div class="t" style="left:31.20px;top:938.80px;width:700px;text-align:left;font-size:15.0px;font-weight:bold;color:#ffffff;transform:scaleX(1.0);transform-origin:0 50%">*Includes additional 0.60mm allowed in EN 60903 for categories A and H.</div>
</body></html>
